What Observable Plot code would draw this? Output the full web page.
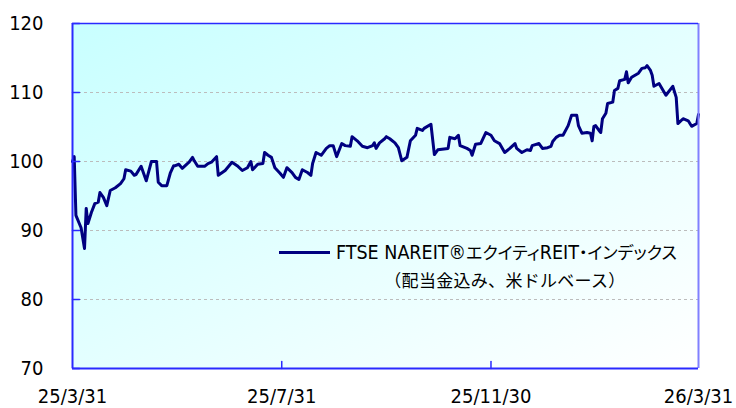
<!DOCTYPE html>
<html><head><meta charset="utf-8">
<script src="https://cdn.jsdelivr.net/npm/d3@7"></script>
<script src="https://cdn.jsdelivr.net/npm/@observablehq/plot@0.6"></script>
<style>
body{margin:0;background:#fff;}
#wrap{position:relative;width:736px;height:408px;font-family:"DejaVu Sans Condensed","DejaVu Sans",sans-serif;}
.lg{position:absolute;white-space:nowrap;color:#000;font-size:19.5px;line-height:1;font-family:"DejaVu Sans Condensed","DejaVu Sans",sans-serif;}
.jp{font-family:"Noto Sans CJK JP",sans-serif;font-size:17px;font-feature-settings:"palt";}
.jpf{font-family:"Noto Sans CJK JP",sans-serif;font-size:17px;letter-spacing:0.3px;}
</style></head>
<body><div id="wrap"></div>
<script>
const dates = ["2025-03-31","2025-04-01","2025-04-02","2025-04-05","2025-04-07","2025-04-08","2025-04-09","2025-04-11","2025-04-13","2025-04-15","2025-04-16","2025-04-18","2025-04-20","2025-04-22","2025-04-25","2025-04-28","2025-04-30","2025-05-01","2025-05-04","2025-05-06","2025-05-07","2025-05-10","2025-05-13","2025-05-16","2025-05-19","2025-05-20","2025-05-22","2025-05-25","2025-05-27","2025-05-29","2025-05-30","2025-06-01","2025-06-03","2025-06-06","2025-06-07","2025-06-09","2025-06-10","2025-06-12","2025-06-16","2025-06-18","2025-06-20","2025-06-23","2025-06-24","2025-06-28","2025-07-02","2025-07-05","2025-07-08","2025-07-11","2025-07-13","2025-07-14","2025-07-17","2025-07-20","2025-07-21","2025-07-23","2025-07-25","2025-07-27","2025-07-30","2025-08-01","2025-08-03","2025-08-06","2025-08-08","2025-08-10","2025-08-12","2025-08-15","2025-08-17","2025-08-18","2025-08-20","2025-08-23","2025-08-26","2025-08-28","2025-08-30","2025-09-01","2025-09-04","2025-09-06","2025-09-09","2025-09-10","2025-09-13","2025-09-16","2025-09-19","2025-09-22","2025-09-23","2025-09-24","2025-09-26","2025-09-29","2025-09-30","2025-10-02","2025-10-05","2025-10-07","2025-10-09","2025-10-12","2025-10-14","2025-10-17","2025-10-18","2025-10-21","2025-10-22","2025-10-26","2025-10-28","2025-10-30","2025-11-05","2025-11-06","2025-11-09","2025-11-11","2025-11-12","2025-11-16","2025-11-18","2025-11-19","2025-11-21","2025-11-24","2025-11-27","2025-11-30","2025-12-02","2025-12-05","2025-12-08","2025-12-11","2025-12-14","2025-12-15","2025-12-18","2025-12-21","2025-12-23","2025-12-24","2025-12-28","2025-12-30","2026-01-02","2026-01-04","2026-01-05","2026-01-07","2026-01-09","2026-01-11","2026-01-14","2026-01-16","2026-01-19","2026-01-20","2026-01-22","2026-01-25","2026-01-27","2026-01-28","2026-01-29","2026-01-30","2026-02-01","2026-02-02","2026-02-03","2026-02-05","2026-02-06","2026-02-09","2026-02-10","2026-02-12","2026-02-13","2026-02-16","2026-02-17","2026-02-18","2026-02-20","2026-02-24","2026-02-26","2026-02-28","2026-03-01","2026-03-03","2026-03-04","2026-03-05","2026-03-08","2026-03-12","2026-03-16","2026-03-18","2026-03-19","2026-03-22","2026-03-25","2026-03-27","2026-03-30","2026-03-31"];
const values = [100.0,100.7,92.2,90.4,87.4,93.2,91.0,92.6,93.9,94.1,95.5,94.8,93.6,95.8,96.2,96.8,97.5,98.8,98.6,98.0,98.1,99.3,97.2,100.0,100.0,97.0,96.5,96.5,98.3,99.4,99.4,99.6,99.0,99.7,99.9,100.6,100.1,99.3,99.3,99.7,99.9,100.7,98.0,98.7,99.9,99.4,98.7,99.1,100.0,98.8,99.6,99.7,101.3,100.9,100.6,99.1,98.3,97.7,99.1,98.4,97.7,97.4,98.8,98.4,98.0,99.7,101.3,100.9,101.9,102.3,102.3,100.7,102.6,102.3,102.2,103.6,103.0,102.2,102.0,102.3,102.7,101.9,102.7,103.3,103.6,103.3,102.7,102.0,100.1,100.6,103.0,103.8,104.8,104.5,104.8,105.4,101.0,101.7,101.9,103.5,103.3,103.8,102.3,101.9,101.6,100.9,102.5,102.6,104.2,103.8,103.0,102.6,101.3,101.9,102.6,101.9,101.3,101.7,101.6,102.3,102.6,101.9,102.0,102.2,102.9,103.5,103.8,103.8,105.2,106.7,106.7,105.2,104.1,104.2,104.1,103.0,105.1,105.2,104.5,104.2,106.2,107.0,108.4,108.6,110.3,110.6,111.7,111.9,113.0,111.4,112.2,112.8,113.5,113.6,113.9,113.2,112.5,110.9,111.3,109.6,110.9,109.3,105.5,106.2,105.9,105.1,105.5,106.8];
const yTicks = [70, 80, 90, 100, 110, 120];
const gridTicks = [80, 90, 100, 110];
const xTickDates = ["2025-03-31", "2025-07-31", "2025-11-30", "2026-03-31"];
const xTickLabels = ["25/3/31", "25/7/31", "25/11/30", "26/3/31"];
const innerXTicks = ["2025-07-31", "2025-11-30"];
const seriesName = "FTSE NAREIT®エクイティREIT・インデックス";
const seriesNote = "（配当金込み、米ドルベース）";

const parse = s => new Date(s + "T00:00:00Z");
const data = dates.map((d, i) => ({date: parse(d), value: values[i]}));
const xDomain = [parse(xTickDates[0]), parse(xTickDates[xTickDates.length - 1])];
const labelOf = new Map(xTickDates.map((d, i) => [+parse(d), xTickLabels[i]]));

const tickShape = {draw(ctx, l) { ctx.moveTo(0, 0); ctx.lineTo(0, -l); }};
const blue = "#2a2aff";

const defsMark = () => {
  const defs = d3.create("svg:defs");
  const g = defs.append("linearGradient").attr("id", "bg")
    .attr("x1", 0).attr("y1", 0).attr("x2", 1).attr("y2", 1);
  g.append("stop").attr("offset", "0%").attr("stop-color", "#c8ffff");
  g.append("stop").attr("offset", "100%").attr("stop-color", "#ffffff");
  return defs.node();
};

const chart = Plot.plot({
  width: 736, height: 408,
  marginLeft: 72, marginRight: 38, marginTop: 23, marginBottom: 40,
  style: {fontFamily: '"DejaVu Sans Condensed","DejaVu Sans",sans-serif', fontSize: "20px", color: "#000", background: "transparent", overflow: "visible"},
  x: {type: "utc", domain: xDomain, label: null},
  y: {domain: [70, 120], label: null},
  marks: [
    defsMark,
    Plot.frame({fill: "url(#bg)", stroke: null}),
    Plot.ruleY(gridTicks, {stroke: "#bcbcbc", strokeDasharray: "3,3", strokeWidth: 1}),
    Plot.line(data, {x: "date", y: "value", stroke: "#000080", strokeWidth: 3, strokeLinejoin: "round"}),
    Plot.ruleX([xDomain[1]], {stroke: "#8080ff", strokeWidth: 2}),
    Plot.ruleX([xDomain[0]], {stroke: blue, strokeWidth: 2}),
    Plot.ruleY([120], {stroke: blue, strokeWidth: 1.5}),
    Plot.ruleY([70], {stroke: blue, strokeWidth: 2}),
    Plot.vector(yTicks, {y: d => d, frameAnchor: "left", length: 7, rotate: 90, anchor: "start", shape: tickShape, stroke: blue, strokeWidth: 1.5}),
    Plot.vector(innerXTicks.map(parse), {x: d => d, frameAnchor: "bottom", length: 7, rotate: 0, anchor: "start", shape: tickShape, stroke: blue, strokeWidth: 1.5}),
    Plot.axisY(yTicks, {tickSize: 0, tickPadding: 29, fontSize: 20, label: null}),
    Plot.axisX(xTickDates.map(parse), {tickSize: 0, tickPadding: 20, fontSize: 20, label: null, tickFormat: d => labelOf.get(+d)})
  ]
});
const wrap = document.getElementById("wrap");
wrap.appendChild(chart);

const row1 = document.createElement("div");
row1.className = "lg";
row1.style.left = "279px"; row1.style.top = "243px";
row1.innerHTML = '<span style="display:inline-block;width:51px;height:3px;background:#000080;vertical-align:middle;margin-right:6px;position:relative;top:-1px"></span>' +
  seriesName.replace(/([^\x00-\xff]+)/g, '<span class="jp">$1</span>');
wrap.appendChild(row1);
const row2 = document.createElement("div");
row2.className = "lg";
row2.innerHTML = '<span class="jpf">' + seriesNote + '</span>';
wrap.appendChild(row2);
const w2 = row2.getBoundingClientRect().width;
row2.style.left = (505 - w2 / 2) + "px"; row2.style.top = "271px";
</script>
</body></html>
